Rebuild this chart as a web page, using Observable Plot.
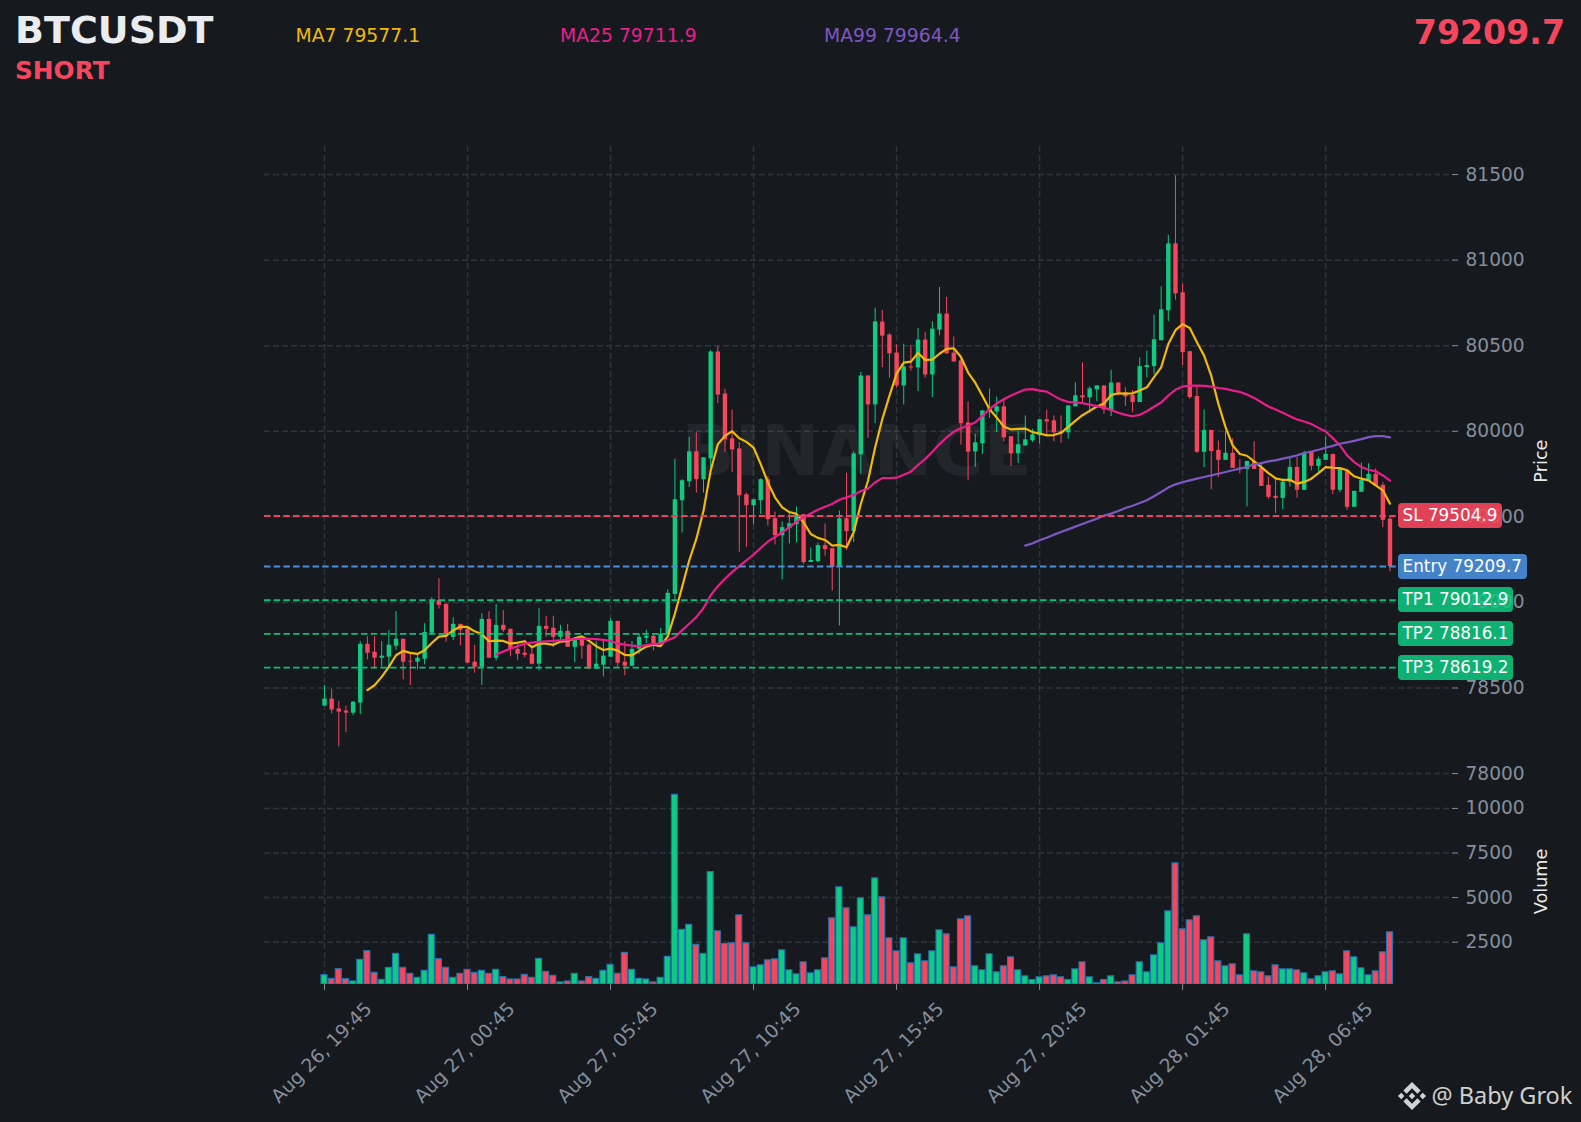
<!DOCTYPE html>
<html><head><meta charset="utf-8">
<script src="https://cdn.jsdelivr.net/npm/d3@7"></script>
<script src="https://cdn.jsdelivr.net/npm/@observablehq/plot@0.6"></script>
<style>
html,body{margin:0;padding:0;background:#161a1e;}
#root{position:relative;width:1581px;height:1122px;overflow:hidden;background:#161a1e;font-family:"DejaVu Sans",sans-serif;}
#root svg.plot{position:absolute;left:0;}
.t{position:absolute;line-height:1;white-space:nowrap;}
.box{position:absolute;left:1398px;height:25px;line-height:25px;padding:0 4.6px;border-radius:4px;color:#fff;font-size:16.8px;white-space:nowrap;}
</style></head><body><div id="root"></div>
<script>
const open=[78394,78435,78377,78365,78353,78412,78755,78709,78674,78680,
78744,78785,78656,78651,78668,78820,79012,78989,78796,78872,
78843,78651,78621,78901,78674,78866,78843,78726,78703,78697,
78639,78860,78849,78796,78831,78738,78785,78750,78610,78633,
78680,78889,78651,78627,78726,78790,78802,78755,78808,79046,
79594,79705,79880,79717,79839,80463,80218,79956,79897,79629,
79565,79594,79717,79489,79390,79431,79454,79513,79233,79239,
79332,79314,79204,79489,79414,79862,80323,80154,80638,80562,
80457,80265,80376,80370,80533,80329,80591,80685,80457,80411,
80049,79880,79927,80119,80113,80143,79968,79869,79915,79944,
79974,80067,80061,79997,79991,80143,80207,80195,80242,80265,
80119,80282,80224,80209,80168,80372,80378,80529,80704,81095,
80809,80465,80203,79877,80005,79888,79830,79871,79785,79777,
79824,79783,79684,79620,79608,79702,79789,79655,79877,79795,
79830,79865,79655,79771,79556,79643,79707,79748,79684,79486];
const close=[78435,78371,78359,78353,78417,78755,78703,78674,78686,78750,
78785,78651,78651,78674,78825,79012,78983,78808,78872,78837,
78645,78621,78901,78674,78866,78837,78726,78697,78691,78639,
78860,78843,78796,78831,78738,78779,78744,78610,78639,78686,
78889,78645,78627,78726,78796,78802,78759,78814,79053,79600,
79711,79880,79717,79845,80463,80212,79950,79891,79623,79565,
79600,79717,79484,79390,79437,79460,79507,79233,79245,79332,
79309,79204,79489,79414,79868,80323,80154,80639,80556,80452,
80265,80376,80370,80533,80329,80597,80685,80452,80405,80044,
79878,79933,80119,80131,80143,79962,79869,79921,79950,79979,
80067,80055,79991,79985,80148,80207,80195,80248,80265,80125,
80282,80224,80201,80168,80378,80384,80535,80710,81095,80803,
80459,80197,79877,80005,79882,79830,79871,79783,79777,79824,
79777,79678,79614,79608,79702,79789,79655,79871,79795,79836,
79865,79655,79777,79556,79649,79713,79748,79678,79480,79209.7];
const high=[78515,78491,78421,78394,78421,78771,78800,78800,78771,78835,
78946,78785,78701,78697,78876,79027,79138,78989,78911,78872,
78856,78748,78934,78946,78987,78952,78843,78759,78779,78750,
78963,78919,78919,78866,78872,78788,78798,78759,78771,78779,
78905,78889,78771,78771,78814,78837,78814,78847,79074,79837,
79717,79965,79990,79845,80472,80494,80245,80125,79934,79639,
79600,79722,79736,79528,79470,79524,79557,79513,79318,79347,
79458,79314,79534,79755,79880,80344,80323,80719,80706,80572,
80504,80508,80502,80601,80578,80640,80840,80782,80551,80440,
80172,79983,80119,80246,80199,80193,79968,80007,80090,80012,
80067,80123,80090,80090,80148,80283,80399,80259,80265,80265,
80356,80282,80255,80238,80428,80469,80679,80844,81145,81493,
80859,80465,80261,80125,80005,79943,80001,79956,79834,79824,
79939,79810,79731,79731,79723,79840,79845,79884,79877,79849,
79966,79865,79777,79777,79649,79814,79810,79781,79700,79496];
const low=[78394,78349,78157,78239,78338,78344,78664,78612,78623,78623,
78720,78548,78513,78606,78635,78820,78961,78767,78777,78746,
78645,78586,78516,78674,78658,78825,78682,78662,78676,78635,
78600,78796,78736,78779,78738,78647,78668,78610,78610,78565,
78680,78621,78571,78627,78697,78759,78717,78744,78808,79015,
79406,79672,79639,79639,79769,80161,79876,79759,79293,79322,
79454,79513,79445,79336,79132,79342,79347,79221,79233,79231,
79270,79066,78862,79303,79351,79750,79958,80045,80372,80310,
80251,80154,80352,80232,80310,80197,80558,80452,80405,79919,
79711,79789,79865,80075,79993,79939,79795,79812,79911,79935,
79925,79974,79939,79929,79954,80143,80164,80104,80174,80100,
80086,80207,80145,80108,80168,80312,80331,80529,80642,80766,
80384,80187,79871,79787,79659,79729,79830,79783,79752,79558,
79777,79678,79603,79519,79542,79674,79610,79655,79768,79762,
79830,79630,79641,79537,79556,79643,79707,79678,79437,79179];
const volume=[654,448,990,430,300,1513,2000,785,392,1065,
1849,1065,728,505,897,2914,1551,1065,505,728,
953,785,897,728,953,542,411,411,672,505,
1569,840,616,250,300,728,300,542,448,897,
1233,728,1905,953,448,411,250,505,1681,10760,
3194,3474,2354,1849,6426,3109,2399,2437,4006,2437,
1092,1204,1484,1540,2044,923,699,1372,755,923,
1596,3837,5575,4398,3333,4958,4006,6079,5014,2717,
1988,2717,1316,1820,1428,1988,3165,2941,1092,3782,
3950,1148,923,1820,811,1148,1652,923,587,382,
531,587,643,531,382,979,1372,531,200,382,
587,250,300,643,1372,811,1764,2437,4230,6920,
3221,3725,3950,2605,2773,1428,1148,1260,643,2941,
867,811,587,1204,979,979,923,755,419,587,
811,867,699,1988,1652,1036,643,867,1932,3053];
const ma7Start=6;
const ma7=[78487,78516,78565,78623,78691,78717,78705,78699,78720,78763,78800,78804,78837,78858,78856,78831,78814,78773,78777,78775,78759,78765,78773,78738,78759,78759,78752,78771,78775,78790,78802,78775,78744,78722,78730,78718,78693,78691,78717,78742,78753,78744,78802,
78934,79089,79245,79371,79536,79769,79924,79973,80000,79959,79938,79905,79808,79701,79614,79555,79528,79517,79468,79400,79377,79365,79332,79336,79322,79410,79575,79711,79905,80070,
80207,80337,80401,80407,80457,80417,80419,80453,80481,80485,80434,80343,80284,80207,80129,80080,80028,80011,80014,80016,79995,79987,79976,79978,79991,80026,80061,80094,80119,80145,80162,80211,80222,80220,
80222,80238,80257,80316,80374,80510,80591,80626,80603,80520,80442,80325,80160,80024,79917,79867,79857,79824,79791,79756,79725,79715,79717,79694,79704,79723,79756,79791,79787,79785,79772,79737,79723,79713,79684,79655,79577.1];
const ma25Start=24;
const ma25=[78695,78713,78730,78744,78759,78765,78769,78773,78775,78779,78783,78785,78787,78787,78785,78781,78775,78759,78753,78748,78744,78750,78757,78759,78779,
78796,78837,78875,78914,78967,79041,79095,79138,79177,79212,79245,79280,79318,79355,79382,79410,79439,79472,79497,79520,79542,79559,79575,79600,79614,79627,79651,79664,79701,79726,
79727,79729,79746,79764,79803,79838,79880,79925,79964,79997,80018,80034,80051,80090,80129,80162,80187,80209,80226,80244,80246,80238,80232,80207,80185,80172,80168,80164,80156,80147,80137,80125,80108,80096,
80088,80096,80117,80143,80168,80209,80242,80261,80267,80267,80265,80261,80253,80248,80238,80230,80215,80195,80170,80145,80127,80108,80088,80069,80057,80042,80020,79999,79960,79917,79859,79820,79791,79775,79766,79742,79711.9];
const ma99Start=98;
const ma99=[79332,79345,79363,79378,79396,79412,79427,79443,79458,79474,79489,79507,79519,79534,
79552,79565,79581,79597,79620,79645,79671,79690,79702,79713,79723,79733,79742,79752,79762,79772,79781,79791,79807,79814,79824,79830,79840,79849,79859,79873,79882,79892,79904,79915,79927,79935,79944,79954,79966,79972,79972,79964.4];
const tickIndex=[0,20,40,60,80,100,120,140];
const tickLabels=["Aug 26, 19:45","Aug 27, 00:45","Aug 27, 05:45","Aug 27, 10:45","Aug 27, 15:45","Aug 27, 20:45","Aug 28, 01:45","Aug 28, 06:45"];
const priceTicks=[78000,78500,79000,79500,80000,80500,81000,81500];
const volumeTicks=[2500,5000,7500,10000];
const levelNames=["SL","Entry","TP1","TP2","TP3"];
const levelValues=[79504.9,79209.7,79012.9,78816.1,78619.2];
const levelLine=["#e8455b","#4a8fdc","#0dbd78","#0dbd78","#0dbd78"];
const levelBox=["rgba(246,70,93,.9)","rgba(74,143,220,.9)","rgba(14,203,129,.86)","rgba(14,203,129,.86)","rgba(14,203,129,.86)"];

const GREEN="#0ecb81",RED="#f6465d",GRID="#2e343c",MUTED="#848e9c";
const candles=open.map((o,i)=>({i,o,c:close[i],h:high[i],l:low[i],v:volume[i]}));
const up=candles.filter(d=>d.c>=d.o), down=candles.filter(d=>d.c<d.o);
const series=(arr,start)=>arr.map((v,k)=>({i:start+k,v}));
const levels=levelNames.map((n,k)=>({n,v:levelValues[k],line:levelLine[k],box:levelBox[k]}));
const xDomain=[-8.39,157.6];
const fontBase={background:"transparent",fontFamily:"DejaVu Sans",overflow:"visible"};
const gridStyle={stroke:GRID,strokeOpacity:1,strokeWidth:1.5,strokeDasharray:"6,3"};

const candleMarks=(rows,color)=>[
  Plot.ruleX(rows,{x:"i",y1:"l",y2:"h",stroke:color,strokeWidth:1}),
  Plot.ruleX(rows,{x:"i",y1:"o",y2:"c",stroke:color,strokeWidth:4.4})
];
const pricePlot=Plot.plot({
  width:1581,height:790,marginLeft:264,marginRight:130,marginTop:146,marginBottom:0,
  style:fontBase,
  x:{domain:xDomain,axis:null},
  y:{domain:[77901,81664],axis:null},
  marks:[
    Plot.gridX({ticks:tickIndex,...gridStyle}),
    Plot.gridY({ticks:priceTicks,...gridStyle}),
    Plot.axisY({anchor:"right",ticks:priceTicks,tickSize:6,tickPadding:8,fontSize:18.6,color:MUTED,stroke:MUTED,label:null,tickFormat:d=>String(d)}),
    Plot.text(["BINANCE"],{frameAnchor:"top-left",dx:592,dy:306,text:d=>d,fontSize:70,fontWeight:"bold",fill:"#fff",fillOpacity:.055,lineAnchor:"middle",textAnchor:"middle"}),
    ...candleMarks(up,GREEN),
    ...candleMarks(down,RED),
    Plot.line(series(ma7,ma7Start),{x:"i",y:"v",stroke:"#f0b90b",strokeWidth:2.2}),
    Plot.line(series(ma25,ma25Start),{x:"i",y:"v",stroke:"#e91e8c",strokeWidth:2.2}),
    Plot.line(series(ma99,ma99Start),{x:"i",y:"v",stroke:"#7e57c2",strokeWidth:2.2}),
    Plot.ruleY(levels,{y:"v",x1:xDomain[0],x2:150.2,stroke:"line",strokeWidth:1.9,strokeDasharray:"6.5,3.2"}),
    Plot.text(["Price"],{frameAnchor:"top-right",dx:83,dy:293,text:d=>d,rotate:-90,fontSize:17.7,fill:"#e8e8e8"})
  ],
  color:{type:"identity"}
});
pricePlot.style.top="0px";

const base=130;
const barMarks=(rows,color)=>Plot.rect(rows,{x1:d=>d.i-.42,x2:d=>d.i+.42,y1:()=>base,y2:"v",fill:color,stroke:"#1f77b4",strokeWidth:1.1,clip:true});
const volumePlot=Plot.plot({
  width:1581,height:332,marginLeft:264,marginRight:130,marginTop:0,marginBottom:138,
  style:fontBase,
  x:{domain:xDomain,axis:null},
  y:{domain:[base,11003],axis:null},
  marks:[
    Plot.gridX({ticks:tickIndex,...gridStyle}),
    Plot.gridY({ticks:volumeTicks,...gridStyle}),
    Plot.axisY({anchor:"right",ticks:volumeTicks,tickSize:6,tickPadding:8,fontSize:18.6,color:MUTED,stroke:MUTED,label:null,tickFormat:d=>String(d)}),
    Plot.axisX({anchor:"bottom",ticks:tickIndex,tickSize:6,stroke:MUTED,tickFormat:()=>"",label:null}),
    barMarks(up,GREEN),
    barMarks(down,RED),
    Plot.text(tickIndex,{x:d=>d,frameAnchor:"bottom",dx:1.5,dy:72.5,text:(d,k)=>tickLabels[k],rotate:-45,fontSize:18.8,fill:MUTED}),
    Plot.text(["Volume"],{frameAnchor:"top-right",dx:83,dy:58,text:d=>d,rotate:-90,fontSize:17.7,fill:"#e8e8e8"})
  ]
});
volumePlot.style.top="790px";

const root=document.getElementById("root");
root.append(pricePlot,volumePlot);
const addText=(text,x,baseline,size,color,weight,right)=>{
  const el=document.createElement("div");el.className="t";el.textContent=text;
  el.style.cssText+=`top:${baseline-.846*size}px;font-size:${size}px;color:${color};font-weight:${weight||"normal"};`+(right?`right:${1581-x}px;`:`left:${x}px;`);
  root.append(el);return el;
};
addText("BTCUSDT",15,43,38,"#eaecef","bold");
addText("SHORT",15,80,24.8,RED,"bold");
addText("79209.7",1565,44,33.2,RED,"bold",true);
addText("MA7 79577.1",295.5,43,18.8,"#f0b90b");
addText("MA25 79711.9",560,43,18.8,"#e91e8c");
addText("MA99 79964.4",824,43,18.8,"#7e57c2");

const yScale=pricePlot.scale("y");
levels.forEach(l=>{
  const b=document.createElement("div");b.className="box";b.textContent=`${l.n} ${l.v.toFixed(1)}`;
  b.style.top=(yScale.apply(l.v)-12.5)+"px";b.style.background=l.box;root.append(b);
});

const wm=document.createElement("div");
wm.style.cssText="position:absolute;left:1398px;top:1082px;width:28px;height:28px;";
wm.innerHTML='<svg viewBox="0 0 126.61 126.61" width="28" height="28" fill="#d4d4d4"><path d="M38.73 53.2l24.59-24.58 24.6 24.6 14.3-14.31L63.32 0 24.42 38.9z"/><path d="M0 63.31l14.3-14.31 14.31 14.31-14.31 14.3z"/><path d="M38.73 73.41l24.59 24.59 24.6-24.6 14.31 14.29-38.9 38.91-38.91-38.88-.02-.02z"/><path d="M98 63.31l14.3-14.31 14.31 14.3-14.31 14.32z"/><path d="M77.83 63.3L63.32 48.78 52.59 59.51l-1.24 1.23-2.54 2.54 14.51 14.5 14.51-14.47z"/></svg>';
root.append(wm);
const brand=addText("@ Baby Grok",1431.5,1104,23.5,"#cfcfcf");
brand.style.fontFamily='"Noto Sans",sans-serif';
</script></body></html>
